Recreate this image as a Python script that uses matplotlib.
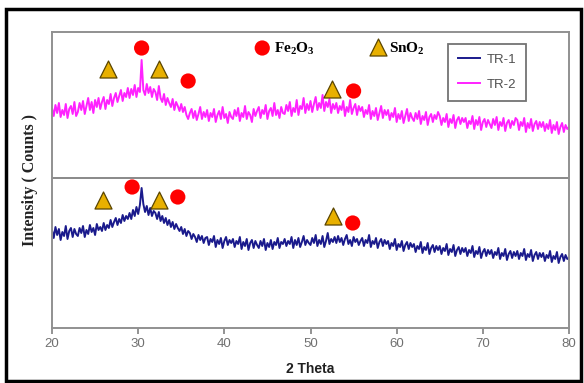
import numpy as np
import matplotlib
matplotlib.use("Agg")
import matplotlib.pyplot as plt
from matplotlib.patches import Rectangle

plt.rcParams["mathtext.fontset"] = "custom"
plt.rcParams["mathtext.rm"] = "Liberation Serif:bold"
plt.rcParams["mathtext.bf"] = "Liberation Serif:bold"

two_theta = np.round(np.arange(20.0, 80.01, 0.2), 1)

tr2 = [220, 212, 223, 215, 225, 211, 218, 213, 224, 210, 219, 222, 214, 226, 212,
       216, 225, 218, 227, 214, 222, 230, 218, 226, 215, 228, 221, 230, 219, 226,
       231, 219, 228, 224, 234, 222, 230, 235, 226, 232, 238, 227, 235, 231, 240,
       230, 239, 233, 243, 231, 240, 236, 268, 238, 233, 244, 235, 241, 231, 239,
       236, 228, 242, 230, 226, 234, 223, 230, 225, 221, 229, 218, 226, 222, 217,
       224, 216, 221, 213, 209, 215, 219, 210, 217, 208, 214, 221, 209, 216, 211,
       218, 207, 215, 211, 219, 206, 213, 217, 209, 221, 210, 214, 205, 216, 211,
       209, 218, 212, 220, 207, 215, 211, 222, 209, 216, 213, 206, 219, 212, 217,
       221, 210, 218, 214, 223, 209, 217, 220, 212, 225, 213, 218, 210, 221, 215,
       214, 223, 217, 226, 212, 220, 216, 228, 213, 222, 219, 230, 215, 224, 218,
       227, 216, 224, 231, 218, 225, 220, 233, 217, 226, 221, 229, 215, 224, 219,
       225, 215, 222, 218, 227, 212, 221, 216, 228, 214, 220, 224, 213, 222, 217,
       221, 211, 218, 214, 223, 209, 217, 212, 220, 208, 215, 222, 210, 218, 213,
       218, 208, 215, 211, 220, 206, 214, 209, 217, 205, 212, 219, 207, 215, 210,
       207, 215, 209, 217, 204, 212, 208, 216, 203, 211, 214, 206, 213, 209, 216,
       212, 203, 210, 206, 214, 201, 209, 205, 213, 200, 208, 211, 204, 210, 206,
       210, 200, 207, 204, 212, 199, 208, 203, 211, 198, 206, 209, 201, 208, 204,
       200, 209, 203, 211, 198, 206, 202, 210, 197, 205, 208, 200, 207, 203, 210,
       208, 198, 206, 202, 210, 196, 205, 200, 209, 197, 204, 207, 199, 206, 201,
       206, 197, 204, 199, 208, 195, 203, 198, 206, 194, 201, 205, 196, 203, 199,
       201]

tr1 = [98, 90, 101, 93, 99, 88, 96, 92, 102, 89, 97, 100, 91, 99, 94,
       92, 100, 95, 102, 91, 98, 94, 103, 96, 100, 93, 104, 98, 101, 97,
       105, 98, 103, 100, 108, 101, 106, 110, 103, 109, 105, 113, 107, 112, 109,
       115, 109, 118, 112, 121, 114, 123, 140, 124, 116, 122, 113, 120, 112, 117,
       115, 109, 116, 107, 112, 105, 110, 103, 108, 101, 106, 99, 104, 100, 97,
       101, 94, 99, 92, 97, 95, 89, 94, 91, 86, 93, 88, 92, 85, 90,
       91, 83, 89, 86, 92, 81, 88, 84, 90, 80, 87, 91, 83, 88, 85,
       89, 81, 87, 84, 91, 79, 86, 82, 89, 78, 85, 88, 80, 87, 83,
       80, 87, 82, 89, 78, 85, 81, 88, 79, 86, 83, 90, 80, 86, 84,
       89, 82, 87, 84, 91, 80, 88, 83, 90, 81, 86, 92, 83, 88, 85,
       83, 90, 85, 93, 82, 88, 84, 92, 81, 87, 95, 84, 89, 86, 91,
       85, 92, 86, 90, 83, 89, 93, 84, 88, 82, 91, 86, 89, 83, 87,
       90, 82, 88, 85, 93, 81, 87, 84, 90, 80, 86, 89, 82, 88, 84,
       87, 79, 85, 82, 89, 78, 84, 81, 87, 77, 83, 86, 79, 85, 81,
       84, 76, 82, 79, 86, 75, 81, 78, 85, 74, 80, 83, 76, 82, 78,
       82, 74, 80, 77, 84, 73, 79, 76, 83, 72, 78, 81, 74, 80, 76,
       80, 72, 78, 75, 82, 71, 77, 74, 81, 70, 76, 79, 72, 78, 74,
       78, 70, 76, 73, 80, 69, 75, 72, 79, 68, 74, 77, 70, 76, 72,
       77, 69, 75, 72, 79, 68, 74, 71, 78, 67, 73, 76, 69, 75, 71,
       75, 67, 73, 70, 77, 66, 72, 69, 76, 65, 71, 74, 67, 73, 69,
       70]

# peak markers (position, height)
fe_top_x = [30.4, 35.8, 55.0]
fe_top_y = [280, 247, 237]
sn_top_x = [26.5, 32.4, 52.5]
sn_top_y = [259, 259, 239]
fe_bot_x = [29.3, 34.6, 54.9]
fe_bot_y = [141, 131, 105]
sn_bot_x = [25.9, 32.4, 52.6]
sn_bot_y = [128, 128, 112]

xticks = [20, 30, 40, 50, 60, 70, 80]

W, H = 584, 383
fig = plt.figure(figsize=(W / 100, H / 100), dpi=100)
ax = fig.add_axes([52 / W, 1 - 328 / H, (569 - 52) / W, (328 - 32) / H])

ax.plot(two_theta, tr1, color="#1a1a8c", lw=1.4, label="TR-1")
ax.plot(two_theta, tr2, color="#ff22ff", lw=1.4, label="TR-2")

tri_kw = dict(marker="^", s=150, color="#e8b000", edgecolor="#5a4500", linewidths=0.9, zorder=5)
cir_kw = dict(marker="o", s=120, color="#ff0000", edgecolor="none", zorder=5)
ax.scatter(fe_top_x, fe_top_y, **cir_kw)
ax.scatter(sn_top_x, sn_top_y, **tri_kw)
ax.scatter(fe_bot_x, fe_bot_y, **cir_kw)
ax.scatter(sn_bot_x, sn_bot_y, **tri_kw)

# key for markers
ax.scatter([44.4], [280], **cir_kw)
ax.text(45.8, 279, r"$\mathrm{Fe_2O_3}$", fontsize=11, va="center", ha="left")
ax.scatter([57.8], [281], **tri_kw)
ax.text(59.1, 279, r"$\mathrm{SnO_2}$", fontsize=11, va="center", ha="left")

ax.axhline(150, color="#808080", lw=1.3)

ax.set_xlim(20, 80)
ax.set_ylim(0, 296)
ax.set_xticks(xticks)
ax.set_yticks([])
ax.tick_params(axis="x", direction="out", length=4, width=1.2, color="#808080",
               labelcolor="#707070", labelsize=9.5)
for lab in ax.get_xticklabels():
    lab.set_family("Liberation Sans")
for sp in ax.spines.values():
    sp.set_color("#909090")
    sp.set_linewidth(1.4)

ax.set_xlabel("2 Theta", fontsize=10, fontweight="bold", family="Liberation Sans",
              color="#202020", labelpad=8)
ax.set_ylabel("Intensity ( Counts )", fontsize=11.5, fontweight="bold",
              family="Liberation Serif", color="#222222", labelpad=10)

leg = ax.legend(loc="upper right", bbox_to_anchor=(0.917, 0.96), fancybox=False,
                frameon=True, borderaxespad=0, handlelength=1.7, handletextpad=0.5,
                borderpad=0.75, labelspacing=0.95,
                prop={"family": "Liberation Sans", "size": 9.5})
leg.get_frame().set_edgecolor("#505050")
leg.get_frame().set_linewidth(1.3)
for t in leg.get_texts():
    t.set_color("#505050")

# outer frame
fig.patches.append(Rectangle((6 / W, 2 / H), (581 - 6) / W, (374 - 2) / H,
                             transform=fig.transFigure, fill=False,
                             edgecolor="black", lw=2.5))

fig.savefig("out.png", dpi=100)
